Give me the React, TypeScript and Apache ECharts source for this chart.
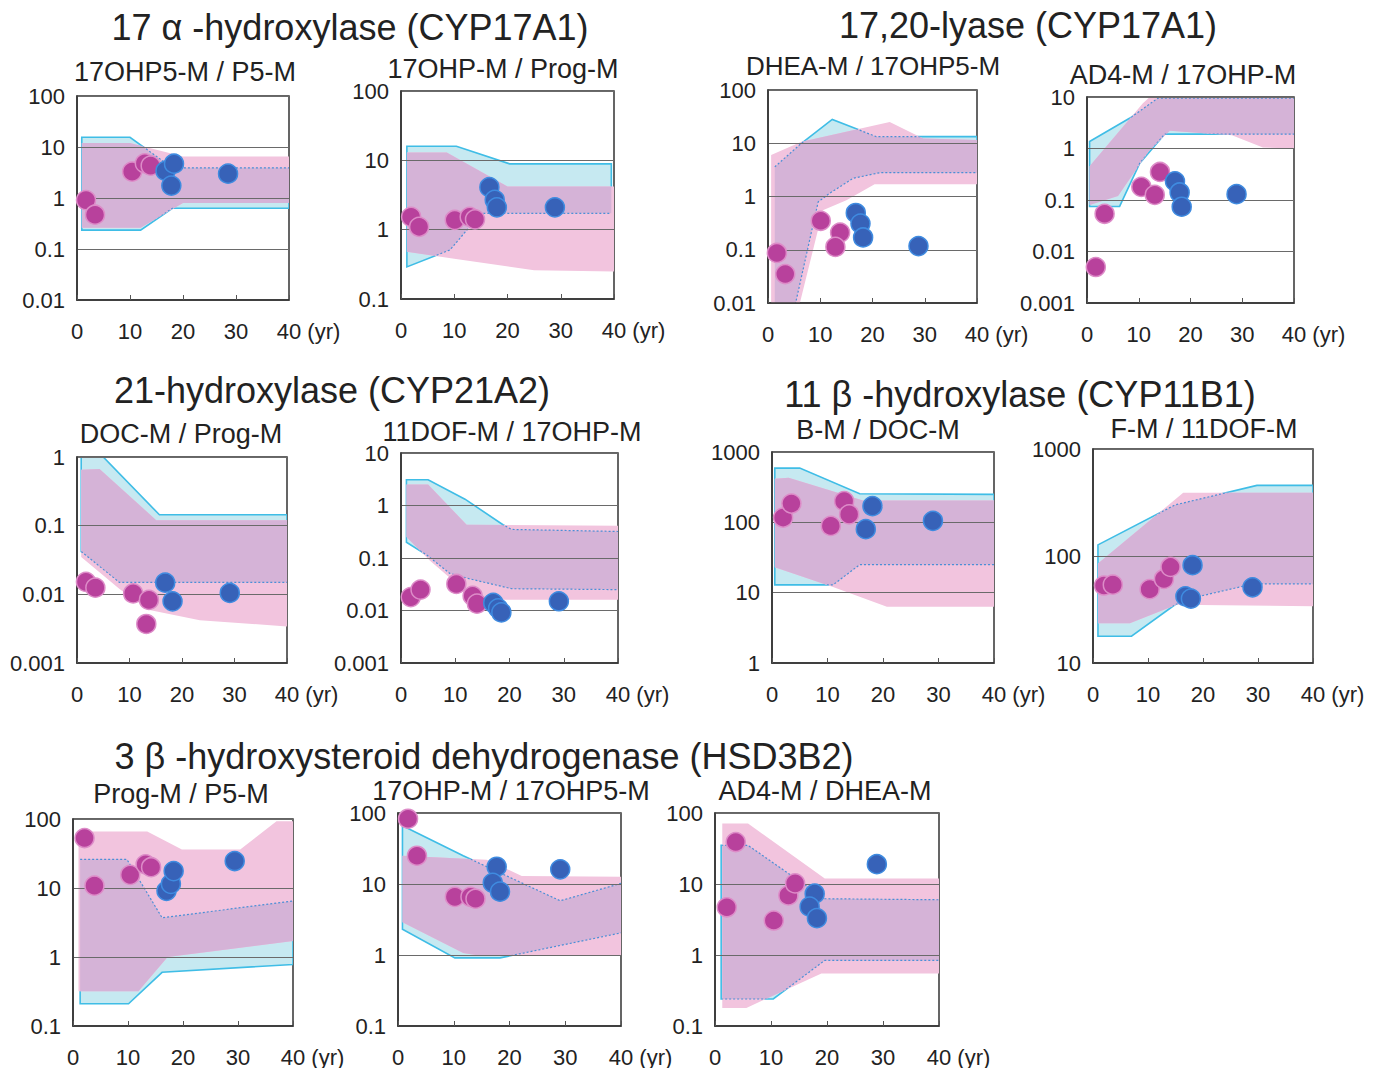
import React, { useEffect, useRef } from "react";
import * as echarts from "echarts";

const FONT = "Liberation Sans, Arial, Helvetica, sans-serif";

// ---------- section headings ----------
const sectionTitles = [
  "17 α -hydroxylase (CYP17A1)",
  "17,20-lyase (CYP17A1)",
  "21-hydroxylase (CYP21A2)",
  "11 β -hydroxylase (CYP11B1)",
  "3 β -hydroxysteroid dehydrogenase (HSD3B2)",
];

// ---------- panel titles ----------
const panelTitles = [
  "17OHP5-M / P5-M",
  "17OHP-M / Prog-M",
  "DHEA-M / 17OHP5-M",
  "AD4-M / 17OHP-M",
  "DOC-M / Prog-M",
  "11DOF-M / 17OHP-M",
  "B-M / DOC-M",
  "F-M / 11DOF-M",
  "Prog-M / P5-M",
  "17OHP-M / 17OHP5-M",
  "AD4-M / DHEA-M",
];

// y-axis ranges (log)
const yMins = [0.01, 0.1, 0.01, 0.001, 0.001, 0.001, 1, 10, 0.1, 0.1, 0.1];
const yMaxs = [100, 100, 100, 10, 1, 10, 1000, 1000, 100, 100, 100];

// x-axis ticks (age, yr)
const xTicks = [0, 10, 20, 30, 40];

// ---------- data: [age, ratio] ----------
// Panel 1: 17OHP5-M / P5-M
const p1CyanUpper = [[0.9, 15.5], [10, 15.5], [18, 3.9], [40, 3.9]];
const p1CyanLower = [[0.9, 0.235], [12, 0.235], [18, 0.63], [40, 0.63]];
const p1PinkUpper = [[0.9, 12], [10, 12], [20, 6.5], [40, 6.5]];
const p1PinkLower = [[0.9, 0.26], [12, 0.26], [20, 0.8], [40, 0.8]];
const p1Magenta = [[1.7, 0.91], [3.4, 0.47], [10.4, 3.3], [12.8, 4.8], [13.9, 4.3]];
const p1Blue = [[16.7, 3.4], [18.3, 4.7], [17.8, 1.75], [28.5, 3.0]];

// Panel 2: 17OHP-M / Prog-M
const p2CyanUpper = [[1.1, 16], [10.4, 16], [20.4, 8.9], [39.5, 8.9]];
const p2CyanLower = [[1.1, 0.29], [9.2, 0.51], [12.9, 1.1], [15.4, 1.72], [39.5, 1.72]];
const p2PinkUpper = [[1.1, 13], [8.6, 13], [20, 4.2], [40, 4.2]];
const p2PinkLower = [[1.1, 0.48], [10, 0.38], [25, 0.26], [40, 0.25]];
const p2Magenta = [[1.9, 1.53], [3.4, 1.1], [10.1, 1.38], [12.9, 1.53], [13.9, 1.41]];
const p2Blue = [[16.6, 4.1], [17.6, 2.7], [18, 2.1], [28.9, 2.1]];

// Panel 3: DHEA-M / 17OHP5-M
const p3CyanUpper = [[1.3, 3.6], [6.4, 10], [12.3, 28], [17.5, 17.7], [20.7, 13.3], [40, 13.3]];
const p3CyanLower = [[1.3, 0.001], [4.6, 0.005], [9.6, 0.79], [11.8, 1.15], [16.3, 2.2], [21.4, 2.8], [40, 2.8]];
const p3PinkUpper = [[0.6, 6], [6.4, 10.7], [23.3, 25], [29.7, 12.3], [40, 11.5]];
const p3PinkLower = [[0.6, 0.001], [5, 0.004], [6.1, 0.01], [10.5, 0.55], [15, 0.85], [20.4, 1.7], [40, 1.7]];
const p3Magenta = [[1.7, 0.087], [3.3, 0.035], [10.1, 0.35], [13.8, 0.21], [12.9, 0.113]];
const p3Blue = [[16.8, 0.49], [17.7, 0.31], [18.2, 0.17], [28.8, 0.117]];

// Panel 4: AD4-M / 17OHP-M
const p4CyanUpper = [[0.5, 1.37], [8.3, 3.9], [13.7, 9.5], [40, 9.5]];
const p4CyanLower = [[0.5, 0.075], [6.3, 0.075], [10.2, 0.52], [15, 1.9], [40, 1.9]];
const p4PinkUpper = [[0.5, 0.45], [10.8, 7.6], [13, 12], [40, 12]];
const p4PinkLower = [[0.5, 0.08], [6, 0.12], [12, 0.9], [16, 2.2], [28, 1.8], [34, 1.05], [40, 1.0]];
const p4Magenta = [[1.7, 0.005], [3.4, 0.054], [10.5, 0.18], [13.1, 0.126], [14.1, 0.35]];
const p4Blue = [[17, 0.23], [17.9, 0.14], [18.3, 0.074], [28.9, 0.13]];

// Panel 5: DOC-M / Prog-M
const p5CyanUpper = [[0.8, 1.2], [4, 1.2], [15.7, 0.144], [40, 0.144]];
const p5CyanLower = [[0.8, 0.042], [8.1, 0.0149], [40, 0.0149]];
const p5PinkUpper = [[0.8, 0.65], [4.3, 0.67], [15.1, 0.12], [40, 0.12]];
const p5PinkLower = [[0.8, 0.035], [8.1, 0.012], [13.8, 0.0059], [23.4, 0.0042], [40, 0.0034]];
const p5Magenta = [[1.7, 0.0152], [3.5, 0.0125], [10.7, 0.0103], [13.7, 0.0083], [13.2, 0.0037]];
const p5Blue = [[16.8, 0.0148], [18.2, 0.0079], [29.1, 0.0105]];

// Panel 6: 11DOF-M / 17OHP-M
const p6CyanUpper = [[1, 3.1], [5, 3.1], [11.8, 1.32], [18.8, 0.43], [20.4, 0.35], [40, 0.32]];
const p6CyanLower = [[1, 0.2], [4.7, 0.115], [9, 0.051], [12.7, 0.04], [20.4, 0.026], [40, 0.025]];
const p6PinkUpper = [[1, 2.5], [5, 2.5], [12.1, 0.43], [40, 0.41]];
const p6PinkLower = [[1, 0.25], [5.3, 0.09], [11.5, 0.025], [15.2, 0.016], [40, 0.016]];
const p6Magenta = [[1.8, 0.018], [3.6, 0.025], [10.2, 0.032], [13.2, 0.019], [14, 0.0135]];
const p6Blue = [[17, 0.014], [17.9, 0.011], [18.5, 0.0092], [29.1, 0.015]];

// Panel 7: B-M / DOC-M
const p7CyanUpper = [[0.5, 590], [5, 590], [15.8, 255], [40, 250]];
const p7CyanLower = [[0.5, 12.9], [11, 12.9], [15.8, 25], [40, 25]];
const p7PinkUpper = [[0.5, 415], [3, 430], [16.4, 205], [40, 205]];
const p7PinkLower = [[0.5, 23], [11, 12], [20.7, 6.3], [40, 6.3]];
const p7Magenta = [[2, 117], [3.5, 185], [10.6, 89], [13, 200], [13.9, 130]];
const p7Blue = [[18.1, 170], [16.9, 80], [29, 105]];

// Panel 8: F-M / 11DOF-M
const p8CyanUpper = [[0.9, 127], [14.9, 300], [29.8, 457], [40, 457]];
const p8CyanLower = [[0.9, 17.8], [7, 17.8], [14.9, 35], [17.6, 40], [29.2, 55], [40, 55]];
const p8PinkUpper = [[0.9, 85], [16.4, 390], [40, 390]];
const p8PinkLower = [[0.9, 23.5], [6.7, 23.5], [15.2, 35], [40, 34]];
const p8Magenta = [[2, 53], [3.6, 54], [10.3, 49], [12.9, 61], [14.1, 79]];
const p8Blue = [[18.1, 82], [16.8, 42], [17.8, 40], [29, 51]];

// Panel 9: Prog-M / P5-M
const p9CyanUpper = [[1.3, 26], [9.8, 26], [16.2, 3.7], [40, 6.5]];
const p9CyanLower = [[1.3, 0.21], [10.1, 0.21], [16.2, 0.6], [40, 0.78]];
const p9PinkUpper = [[1, 66], [13.5, 66], [19.8, 36], [30.4, 36], [37, 93], [40, 93]];
const p9PinkLower = [[1, 0.32], [11.9, 0.32], [17.2, 1.0], [40, 1.7]];
const p9Magenta = [[2.1, 53], [3.9, 10.8], [10.4, 15.5], [13.2, 22], [14.2, 20]];
const p9Blue = [[17, 9.1], [17.8, 11.5], [18.3, 17.6], [29.4, 24.6]];

// Panel 10: 17OHP-M / 17OHP5-M
const p10CyanUpper = [[0.8, 66], [11.7, 25], [29.1, 5.8], [40, 10.2]];
const p10CyanLower = [[0.8, 2.3], [10.2, 0.91], [18.3, 0.91], [40, 2.05]];
const p10PinkUpper = [[0.8, 25], [15.9, 22], [22.2, 13], [40, 12.7]];
const p10PinkLower = [[0.8, 2.9], [11.7, 1.07], [15, 0.97], [40, 0.97]];
const p10Magenta = [[1.8, 83], [3.4, 25], [10.2, 6.6], [13, 6.6], [13.9, 6.2]];
const p10Blue = [[17.7, 17.5], [17, 10.4], [18.3, 7.8], [29.1, 16.1]];

// Panel 11: AD4-M / DHEA-M
const p11CyanUpper = [[1.1, 35], [5.9, 35], [19.6, 6.2], [40, 6]];
const p11CyanLower = [[1.1, 0.24], [10.4, 0.24], [19.6, 0.84], [40, 0.84]];
const p11PinkUpper = [[1.3, 71], [5.9, 71], [19.6, 12], [40, 12]];
const p11PinkLower = [[1.3, 0.18], [5.6, 0.18], [19, 0.55], [40, 0.55]];
const p11Magenta = [[3.7, 39], [2.1, 4.7], [10.5, 3.06], [13.1, 6.9], [14.3, 10.2]];
const p11Blue = [[17.8, 7.3], [16.9, 4.8], [18.2, 3.3], [28.9, 19]];

const cyanUppers = [p1CyanUpper, p2CyanUpper, p3CyanUpper, p4CyanUpper, p5CyanUpper, p6CyanUpper, p7CyanUpper, p8CyanUpper, p9CyanUpper, p10CyanUpper, p11CyanUpper];
const cyanLowers = [p1CyanLower, p2CyanLower, p3CyanLower, p4CyanLower, p5CyanLower, p6CyanLower, p7CyanLower, p8CyanLower, p9CyanLower, p10CyanLower, p11CyanLower];
const pinkUppers = [p1PinkUpper, p2PinkUpper, p3PinkUpper, p4PinkUpper, p5PinkUpper, p6PinkUpper, p7PinkUpper, p8PinkUpper, p9PinkUpper, p10PinkUpper, p11PinkUpper];
const pinkLowers = [p1PinkLower, p2PinkLower, p3PinkLower, p4PinkLower, p5PinkLower, p6PinkLower, p7PinkLower, p8PinkLower, p9PinkLower, p10PinkLower, p11PinkLower];
const magentaPoints = [p1Magenta, p2Magenta, p3Magenta, p4Magenta, p5Magenta, p6Magenta, p7Magenta, p8Magenta, p9Magenta, p10Magenta, p11Magenta];
const bluePoints = [p1Blue, p2Blue, p3Blue, p4Blue, p5Blue, p6Blue, p7Blue, p8Blue, p9Blue, p10Blue, p11Blue];

// ---------- layout (pixels) ----------
const gridBoxes = [
  [77, 96, 212, 204],
  [401, 91, 213, 208],
  [768, 90, 209, 213],
  [1087, 97, 207, 206],
  [77, 457, 210, 206],
  [401, 453, 217, 210],
  [772, 452, 222, 211],
  [1093, 449, 220, 214],
  [73, 819, 220, 207],
  [398, 813, 223, 213],
  [715, 813, 224, 213],
];
const panelTitlePos = [
  [185, 72], [503, 69], [873, 66], [1183, 75],
  [181, 434], [512, 432], [878, 430], [1204, 429],
  [181, 794], [511, 791], [825, 791],
];
const panelTitleSizes = [27, 27, 26, 27, 27, 27, 27, 27, 27, 27, 27];
const sectionTitlePos = [[350, 27], [1028, 25], [332, 390], [1020, 394], [484, 756]];

const CYAN_FILL = "#c6e9f1";
const CYAN_LINE = "#3fbde6";
const PINK_FILL = "#f2c4de";
const OVERLAP_FILL = "#d5b3d7";
const DOT_LINE = "#4b8fd6";
const TEXT = "#222";

function fmtLog(v: number) {
  const e = Math.round(Math.log10(v));
  if (e >= 0) return String(Math.pow(10, e));
  return "0." + "0".repeat(-e - 1) + "1";
}

function bandRenderer(i: number) {
  return (params: any, api: any) => {
    if (params.dataIndex !== 0) return null;
    const cs = params.coordSys;
    const toPts = (arr: number[][]) => arr.map((p) => api.coord(p));
    const cu = toPts(cyanUppers[i]);
    const cl = toPts(cyanLowers[i]);
    const pu = toPts(pinkUppers[i]);
    const pl = toPts(pinkLowers[i]);
    const cyanPoly = [...cu, ...cl.slice().reverse()];
    const pinkPoly = [...pu, ...pl.slice().reverse()];
    return {
      type: "group",
      clipPath: { type: "rect", shape: { x: cs.x, y: cs.y, width: cs.width, height: cs.height } },
      children: [
        { type: "polygon", shape: { points: cyanPoly }, style: { fill: CYAN_FILL, stroke: CYAN_LINE, lineWidth: 1.6 } },
        { type: "polygon", shape: { points: pinkPoly }, style: { fill: PINK_FILL } },
        {
          type: "group",
          clipPath: { type: "polygon", shape: { points: pinkPoly } },
          children: [
            { type: "polygon", shape: { points: cyanPoly }, style: { fill: OVERLAP_FILL } },
            { type: "polyline", shape: { points: cu }, style: { fill: "none", stroke: DOT_LINE, lineWidth: 1.2, lineDash: [2, 2] } },
            { type: "polyline", shape: { points: cl }, style: { fill: "none", stroke: DOT_LINE, lineWidth: 1.2, lineDash: [2, 2] } },
          ],
        },
      ],
    };
  };
}

function buildOption() {
  const n = panelTitles.length;
  const grid = gridBoxes.map((b) => ({
    left: b[0], top: b[1], width: b[2], height: b[3],
    show: true, borderColor: "#333", borderWidth: 1.5, backgroundColor: "transparent",
  }));
  const xAxis = gridBoxes.map((_, i) => ({
    type: "value", gridIndex: i, min: xTicks[0], max: xTicks[xTicks.length - 1], interval: 10, z: 3,
    axisLine: { show: true, lineStyle: { color: "#333", width: 1.5 } },
    axisTick: { show: true, inside: true, length: 5, lineStyle: { color: "#555" } },
    splitLine: { show: false },
    axisLabel: {
      margin: 20, fontSize: 22, color: TEXT, fontFamily: FONT,
      formatter: (v: number) => (v === 40 ? "{pad|}40 (yr)" : String(v)),
      rich: { pad: { width: 39 } },
    },
  }));
  const yAxis = gridBoxes.map((_, i) => ({
    type: "log", logBase: 10, gridIndex: i, min: yMins[i], max: yMaxs[i], z: 3,
    axisLine: { show: true, lineStyle: { color: "#333", width: 1.5 } },
    axisTick: { show: false },
    splitLine: { show: true, lineStyle: { color: "#6a6a6a", width: 1 } },
    axisLabel: { margin: 12, fontSize: 22, color: TEXT, fontFamily: FONT, formatter: fmtLog },
  }));
  const series: any[] = [];
  for (let i = 0; i < n; i++) {
    series.push({
      type: "custom", coordinateSystem: "cartesian2d", xAxisIndex: i, yAxisIndex: i,
      data: cyanUppers[i], renderItem: bandRenderer(i), z: 1, silent: true,
    });
    series.push({
      type: "scatter", xAxisIndex: i, yAxisIndex: i, data: magentaPoints[i], symbolSize: 19, z: 5, clip: false,
      itemStyle: { color: "#b8419c", borderColor: "#dd8cc8", borderWidth: 1.5, opacity: 1 },
    });
    series.push({
      type: "scatter", xAxisIndex: i, yAxisIndex: i, data: bluePoints[i], symbolSize: 19, z: 6, clip: false,
      itemStyle: { color: "#3762b8", borderColor: "#3f8be0", borderWidth: 1.5, opacity: 1 },
    });
  }
  const graphic: any[] = [];
  sectionTitles.forEach((t, i) => {
    graphic.push({
      type: "text", x: sectionTitlePos[i][0], y: sectionTitlePos[i][1],
      style: { text: t, font: `36px ${FONT}`, fill: TEXT, textAlign: "center", textVerticalAlign: "middle" },
    });
  });
  panelTitles.forEach((t, i) => {
    graphic.push({
      type: "text", x: panelTitlePos[i][0], y: panelTitlePos[i][1],
      style: { text: t, font: `${panelTitleSizes[i]}px ${FONT}`, fill: TEXT, textAlign: "center", textVerticalAlign: "middle" },
    });
  });
  return {
    animation: false,
    backgroundColor: "#fff",
    grid, xAxis, yAxis, series, graphic,
  };
}

export default function App() {
  const ref = useRef<HTMLDivElement>(null);
  useEffect(() => {
    const chart = echarts.init(ref.current as HTMLDivElement, null, { renderer: "svg" });
    chart.setOption(buildOption() as any);
    return () => chart.dispose();
  }, []);
  return (
    <div
      ref={ref}
      style={{ position: "absolute", left: 0, top: 0, width: 1378, height: 1068, background: "#fff" }}
    />
  );
}
